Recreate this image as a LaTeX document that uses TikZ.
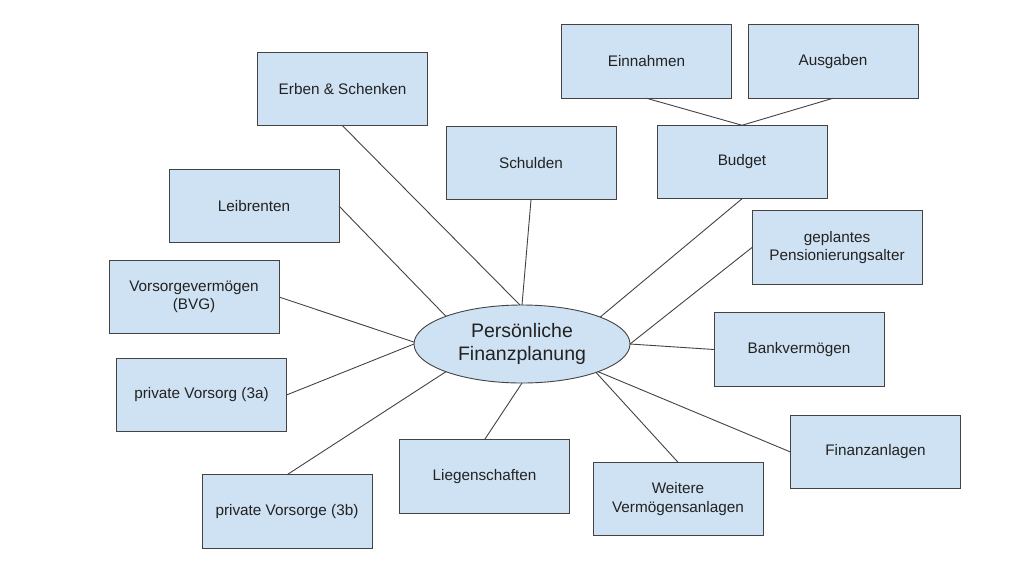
\documentclass[tikz,border=0pt]{standalone}
\usepackage{fontspec}
\setmainfont{Liberation Sans}
\usetikzlibrary{shapes.geometric}
\definecolor{boxfill}{HTML}{CFE2F3}
\definecolor{boxline}{HTML}{434343}
\definecolor{txt}{HTML}{222222}
\tikzset{
  topic/.style={draw=boxline, line width=0.9pt, fill=boxfill, rectangle,
    minimum width=170pt, minimum height=73.5pt, inner sep=0pt, outer sep=0pt,
    align=center, text=txt, font=\fontsize{15.3}{18.3}\selectfont},
  hub/.style={draw=boxline, line width=0.9pt, fill=boxfill, ellipse,
    minimum width=216pt, minimum height=78pt, inner sep=0pt, outer sep=0pt,
    align=center, text=txt, font=\fontsize{19.5}{23}\selectfont},
  link/.style={draw=boxline, line width=0.9pt}
}
\begin{document}
\begin{tikzpicture}[x=1pt,y=-1pt]
\useasboundingbox[fill=white] (0,0) rectangle (1024,576);
% nodes
\node[hub] (c) at (522,344) {Persönliche\\Finanzplanung};
\node[topic] (erben) at (342.5,89) {Erben \& Schenken};
\node[topic] (schulden) at (531,163) {Schulden};
\node[topic] (einnahmen) at (646.5,61.5) {Einnahmen};
\node[topic] (ausgaben) at (833,61.5) {Ausgaben};
\node[topic] (budget) at (742,162) {Budget};
\node[topic] (leib) at (254,206) {Leibrenten};
\node[topic] (bvg) at (194,297) {Vorsorgevermögen\\(BVG)};
\node[topic] (dreia) at (201.5,395) {private Vorsorg (3a)};
\node[topic] (dreib) at (287,511.5) {private Vorsorge (3b)};
\node[topic] (lieg) at (484.5,476.5) {Liegenschaften};
\node[topic] (weitere) at (678,499) {Weitere\\Vermögensanlagen};
\node[topic] (finanz) at (875.5,452) {Finanzanlagen};
\node[topic] (bank) at (799,349.5) {Bankvermögen};
\node[topic] (geplant) at (837,247.5) {geplantes\\Pensionierungsalter};
% connectors
\draw[link] (einnahmen.south) -- (budget.north);
\draw[link] (ausgaben.south) -- (budget.north);
\draw[link] (erben.south) -- (c.93);
\draw[link] (schulden.south) -- (c.90);
\draw[link] (leib.east) -- (c.160.7);
\draw[link] (bvg.east) -- (c.179.5);
\draw[link] (dreia.east) -- (c.180.5);
\draw[link] (dreib.north) -- (c.200.6);
\draw[link] (lieg.north) -- (c.270);
\draw[link] (weitere.north) -- (c.-21.7);
\draw[link] (finanz.west) -- (c.-20.9);
\draw[link] (bank.west) -- (c.-0.5);
\draw[link] (geplant.west) -- (c.0.5);
\draw[link] (budget.south) -- (c.19.6);
\end{tikzpicture}
\end{document}
